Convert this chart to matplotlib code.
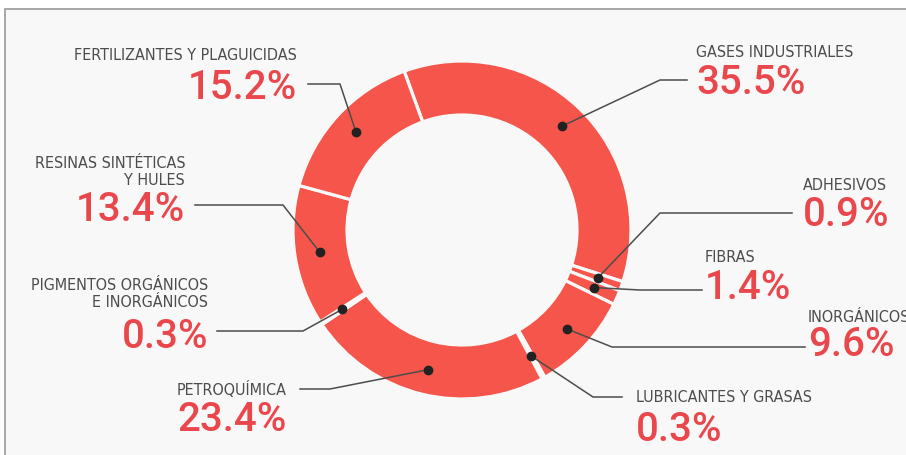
import numpy as np
import matplotlib.pyplot as plt
from matplotlib.patches import Rectangle

# shares of the chemical industry, clockwise from the top
sectores = ['GASES INDUSTRIALES', 'ADHESIVOS', 'FIBRAS', 'INORGÁNICOS',
            'LUBRICANTES Y GRASAS', 'PETROQUÍMICA',
            'PIGMENTOS ORGÁNICOS\nE INORGÁNICOS',
            'RESINAS SINTÉTICAS\nY HULES', 'FERTILIZANTES Y PLAGUICIDAS']
porcentajes = [35.5, 0.9, 1.4, 9.6, 0.3, 23.4, 0.3, 13.4, 15.2]

ROJO = '#f5554a'
ROJO_TXT = '#e9474b'
GRIS = '#4d4d4d'
W, H = 906, 456
cx, cy = 462, 225
r_out, r_in = 169, 115
start = 110

# label layout: (x, y of label, y of percent, align, line y, line start x, elbow x)
layout = [
    (696, 404, 373, 'left', 375, 687, 660),
    (803, 271, 241, 'left', 242, 792, 660),
    (705, 199, 168, 'left', 165, 702, 640),
    (808, 139, 111, 'left', 108, 805, 612),
    (636, 58, 26, 'left', 58, 622, 593),
    (287, 66, 36, 'right', 66, 300, 330),
    (208, 162, 119, 'right', 124, 217, 303),
    (185, 284, 246, 'right', 250, 195, 283),
    (297, 401, 368, 'right', 371, 308, 340),
]

fig = plt.figure(figsize=(W / 100, H / 100), dpi=100)
fig.patch.set_facecolor('white')
ax = fig.add_axes([0, 0, 1, 1])

ax.add_patch(Rectangle((4.5, -10), 1000, H - 9.5 + 10, facecolor='#f8f8f8',
                       edgecolor='#a0a0a0', lw=1.3, zorder=0))

ax.pie(porcentajes, startangle=start, counterclock=False, center=(cx, cy),
       radius=r_out, colors=[ROJO] * len(porcentajes),
       wedgeprops=dict(width=r_out - r_in, edgecolor='#f8f8f8', linewidth=2.3))

# mid angle of every wedge for the marker dots
cum = np.cumsum([0] + porcentajes)
mids = start - (cum[:-1] + np.array(porcentajes) / 2) * 3.6
r_dot = (r_out + r_in) / 2 + 2

for nombre, val, ang, (x, yl, yp, ha, ly, lx0, lx1) in zip(sectores, porcentajes, mids, layout):
    dx = cx + r_dot * np.cos(np.radians(ang))
    dy = cy + r_dot * np.sin(np.radians(ang))
    ax.plot([lx0, lx1, dx], [ly, ly, dy], color=GRIS, lw=1.1, zorder=3)
    ax.plot(dx, dy, 'o', color='#222222', ms=6, zorder=4)
    ax.text(x, yl, nombre, ha=ha, va='center', color=GRIS, fontsize=11.5,
            family='DejaVu Sans', fontstretch='condensed', linespacing=1.1)
    ax.text(x, yp, f'{val:.1f}%', ha=ha, va='center', color=ROJO_TXT,
            fontsize=29, family=['Roboto', 'DejaVu Sans'], weight='medium')

ax.set_xlim(0, W)
ax.set_ylim(0, H)
ax.set_aspect('equal')
ax.axis('off')

fig.savefig('out.png', dpi=100)
